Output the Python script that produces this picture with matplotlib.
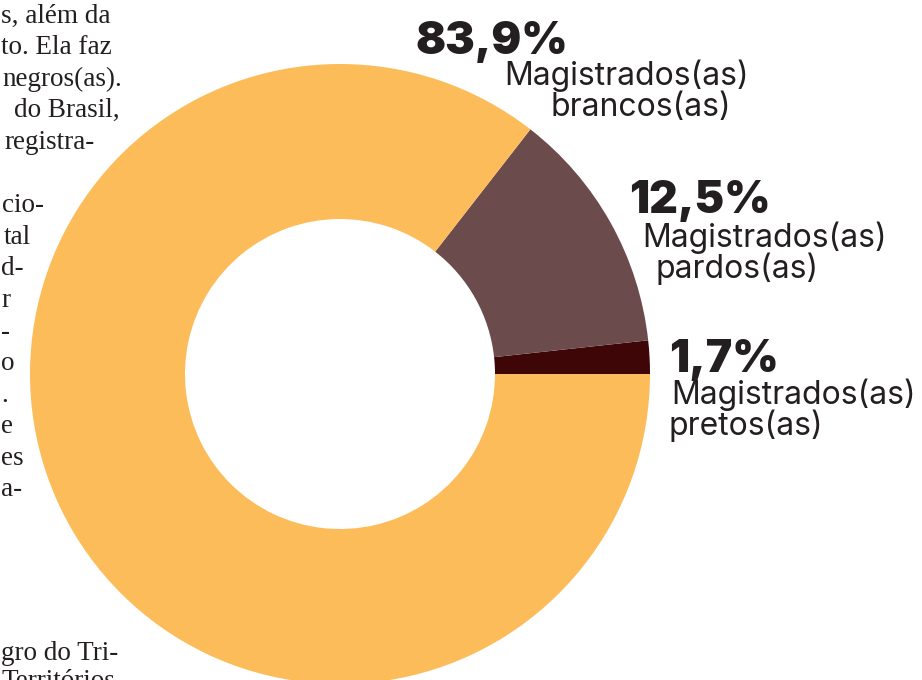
import matplotlib
matplotlib.use("Agg")
import matplotlib.pyplot as plt

# data
groups = ["Magistrados(as)\npretos(as)", "Magistrados(as)\npardos(as)",
          "Magistrados(as)\nbrancos(as)"]
shares = [1.7, 12.5, 83.9]
pct_labels = ["1,7%", "12,5%", "83,9%"]
colors = ["#3f0607", "#6b4b4b", "#fdbc5a"]

# newspaper column fragments cut at the left edge
column_lines = ["s, além da", "to. Ela faz", "negros(as).", "do Brasil,",
                "registra-", "", "cio-", "tal", "d-", "r", "-", "o", ".",
                "e", "es", "a-"]
bottom_lines = ["gro do Tri-", "Territórios"]

W, H = 922, 680
fig = plt.figure(figsize=(W / 100, H / 100), dpi=100)
ax = fig.add_axes([0, 0, 1, 1])

# donut (y axis inverted, so counterclock=False draws counterclockwise on screen)
ax.pie(shares, colors=colors, startangle=0, counterclock=False,
       center=(340, 374), radius=310, frame=True,
       wedgeprops=dict(width=155, linewidth=0))
ax.set_xlim(0, W)
ax.set_ylim(H, 0)
ax.set_aspect("equal")
ax.axis("off")

# labels: (x of percent, y of percent, x of name line1, x of line2, y of name)
label_pos = [(669, 360, 671, 668, 395),
             (629, 201, 642, 655, 238),
             (415, 42, 504, 550, 76)]
for (px, py, lx1, lx2, ly), pct, grp in zip(label_pos, pct_labels, groups):
    ax.text(px, py, pct, fontsize=32, fontweight="black", family="Inter",
            color="#231f20", va="center", ha="left")
    l1, l2 = grp.split("\n")
    ax.text(lx1, ly, l1, fontsize=23, family="Inter", color="#231f20",
            va="center", ha="left")
    ax.text(lx2, ly + 31, l2, fontsize=23, family="Inter", color="#231f20",
            va="center", ha="left")

starts = [1, 1, 2, 14, 4, 0, 2, 4, 1, 1, 1, 1, 1, 1, 1, 1]
for i, (txt, x0) in enumerate(zip(column_lines, starts)):
    if txt:
        ax.text(x0, 16 + i * 31.6, txt, fontsize=19.5, family="Liberation Serif",
                color="#231f20", va="center", ha="left")
for i, txt in enumerate(bottom_lines):
    ax.text(1, 653 + i * 28, txt, fontsize=19.5, family="Liberation Serif",
            color="#231f20", va="center", ha="left")

fig.savefig("out.png", dpi=100)
